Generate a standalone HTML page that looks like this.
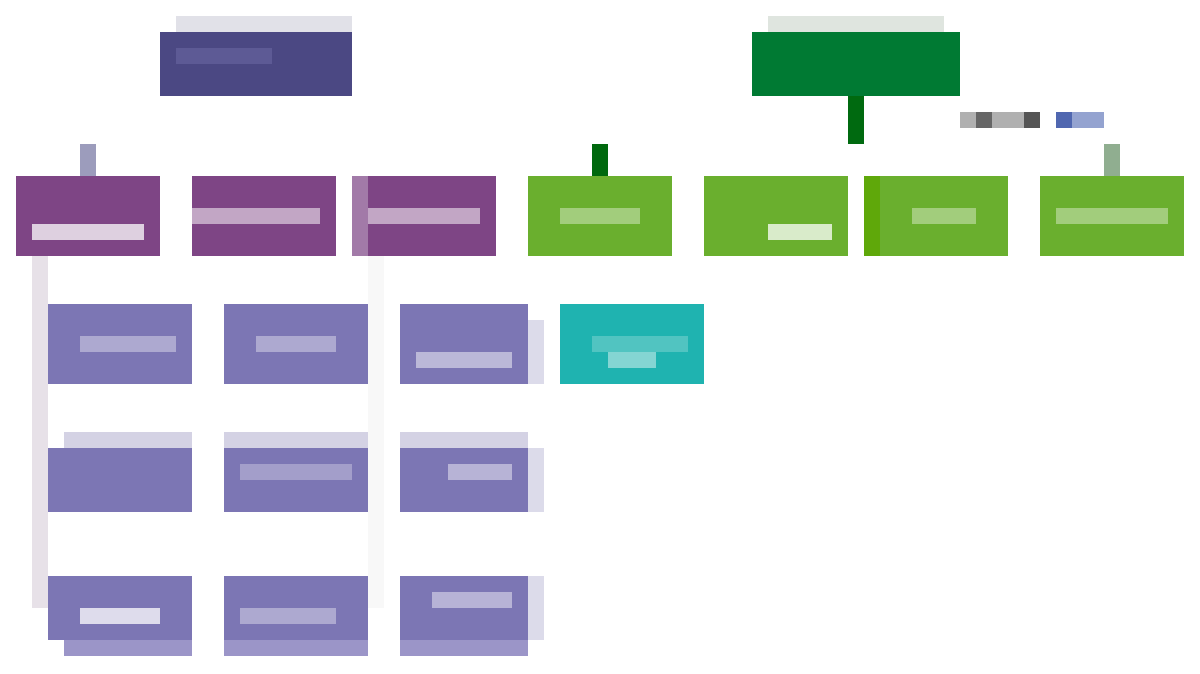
<!DOCTYPE html>
<html><head><meta charset="utf-8"><style>
body{margin:0;width:1200px;height:674px;background:#fff;position:relative;overflow:hidden;font-family:"Liberation Sans",sans-serif}
div{position:absolute}
.p{background:#7e4585}.g{background:#6aaf2e}.v{background:#7c76b4}.t{background:#1fb3b0}
.w{background:rgba(255,255,255,.75)}
</style></head><body>
<div style="left:176px;top:16px;width:176px;height:16px;background:#e1e1e8"></div>
<div style="left:160px;top:32px;width:192px;height:64px;background:#4b4883"></div>
<div style="left:176px;top:48px;width:96px;height:16px;background:#5d5a95"></div>
<div style="left:768px;top:16px;width:176px;height:16px;background:#dfe5df"></div>
<div style="left:752px;top:32px;width:208px;height:64px;background:#007a33"></div>
<div style="left:848px;top:96px;width:16px;height:48px;background:#006a10"></div>
<div style="left:960px;top:112px;width:80px;height:16px;background:#b0b0b0"></div>
<div style="left:976px;top:112px;width:16px;height:16px;background:#666"></div>
<div style="left:1024px;top:112px;width:16px;height:16px;background:#555"></div>
<div style="left:1056px;top:112px;width:48px;height:16px;background:#94a3d0"></div>
<div style="left:1056px;top:112px;width:16px;height:16px;background:#5067b0"></div>

<div style="left:80px;top:144px;width:16px;height:32px;background:#9c9cbc"></div>
<div style="left:592px;top:144px;width:16px;height:32px;background:#00690e"></div>
<div style="left:1104px;top:144px;width:16px;height:32px;background:#90ae90"></div>

<div class="p" style="left:16px;top:176px;width:144px;height:80px"></div>
<div class="w" style="left:32px;top:224px;width:112px;height:16px"></div>
<div class="p" style="left:192px;top:176px;width:144px;height:80px"></div>
<div class="w" style="left:192px;top:208px;width:128px;height:16px;opacity:.7"></div>
<div style="left:352px;top:176px;width:16px;height:80px;background:#a27aa8"></div>
<div class="p" style="left:368px;top:176px;width:128px;height:80px"></div>
<div class="w" style="left:368px;top:208px;width:112px;height:16px;opacity:.7"></div>

<div class="g" style="left:528px;top:176px;width:144px;height:80px"></div>
<div class="w" style="left:560px;top:208px;width:80px;height:16px;opacity:.5"></div>
<div class="g" style="left:704px;top:176px;width:144px;height:80px"></div>
<div class="w" style="left:768px;top:224px;width:64px;height:16px"></div>
<div class="g" style="left:864px;top:176px;width:144px;height:80px"></div>
<div style="left:864px;top:176px;width:16px;height:80px;background:#5fa80a"></div>
<div class="w" style="left:912px;top:208px;width:64px;height:16px;opacity:.5"></div>
<div class="g" style="left:1040px;top:176px;width:144px;height:80px"></div>
<div class="w" style="left:1056px;top:208px;width:112px;height:16px;opacity:.5"></div>

<div style="left:32px;top:256px;width:16px;height:352px;background:#e7e1e8"></div>
<div style="left:368px;top:256px;width:16px;height:352px;background:#f8f8f8"></div>

<div class="v" style="left:48px;top:304px;width:144px;height:80px"></div>
<div class="w" style="left:80px;top:336px;width:96px;height:16px;opacity:.5"></div>
<div class="v" style="left:224px;top:304px;width:144px;height:80px"></div>
<div class="w" style="left:256px;top:336px;width:80px;height:16px;opacity:.5"></div>
<div style="left:528px;top:320px;width:16px;height:64px;background:#dcdbea"></div>
<div class="v" style="left:400px;top:304px;width:128px;height:80px"></div>
<div class="w" style="left:416px;top:352px;width:96px;height:16px;opacity:.65"></div>
<div class="t" style="left:560px;top:304px;width:144px;height:80px"></div>
<div class="w" style="left:592px;top:336px;width:96px;height:16px;opacity:.3"></div>
<div class="w" style="left:608px;top:352px;width:48px;height:16px;opacity:.6"></div>

<div style="left:64px;top:432px;width:128px;height:16px;background:#d4d2e4"></div>
<div style="left:224px;top:432px;width:144px;height:16px;background:#d4d2e4"></div>
<div style="left:400px;top:432px;width:128px;height:16px;background:#d4d2e4"></div>
<div class="v" style="left:48px;top:448px;width:144px;height:64px"></div>
<div class="v" style="left:224px;top:448px;width:144px;height:64px"></div>
<div class="w" style="left:240px;top:464px;width:112px;height:16px;opacity:.4"></div>
<div style="left:528px;top:448px;width:16px;height:64px;background:#dcdbea"></div>
<div class="v" style="left:400px;top:448px;width:128px;height:64px"></div>
<div class="w" style="left:448px;top:464px;width:64px;height:16px;opacity:.6"></div>

<div class="v" style="left:48px;top:576px;width:144px;height:64px"></div>
<div class="w" style="left:80px;top:608px;width:80px;height:16px"></div>
<div class="v" style="left:224px;top:576px;width:144px;height:64px"></div>
<div class="w" style="left:240px;top:608px;width:96px;height:16px;opacity:.5"></div>
<div style="left:528px;top:576px;width:16px;height:64px;background:#dcdbea"></div>
<div class="v" style="left:400px;top:576px;width:128px;height:64px"></div>
<div class="w" style="left:432px;top:592px;width:80px;height:16px;opacity:.6"></div>
<div style="left:64px;top:640px;width:128px;height:16px;background:#9b95c8"></div>
<div style="left:224px;top:640px;width:144px;height:16px;background:#9b95c8"></div>
<div style="left:400px;top:640px;width:128px;height:16px;background:#9b95c8"></div>
</body></html>
